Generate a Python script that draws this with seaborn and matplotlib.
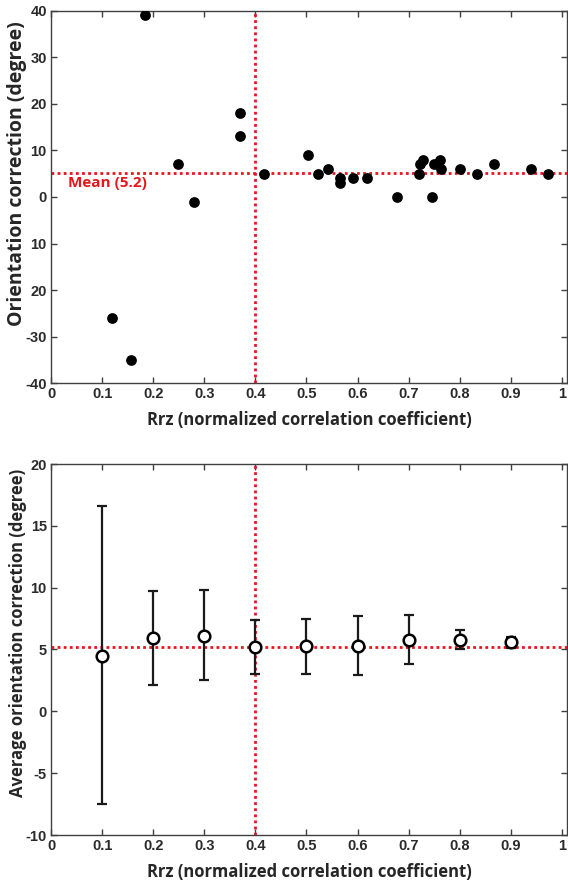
import numpy as np
import pandas as pd
import matplotlib
matplotlib.use("Agg")
import matplotlib.pyplot as plt
import seaborn as sns

# ---- data: top panel (individual cases) ----
rrz = [0.119, 0.156, 0.184, 0.248, 0.279, 0.369, 0.369, 0.416,
       0.504, 0.523, 0.543, 0.565, 0.565, 0.591, 0.619, 0.678,
       0.721, 0.723, 0.729, 0.746, 0.749, 0.761, 0.763, 0.800,
       0.833, 0.868, 0.939, 0.973]
orient = [-26, -35, 39, 7, -1, 18, 13, 5,
          9, 5, 6, 3, 4, 4, 4, 0,
          5, 7, 8, 0, 7, 8, 6, 6,
          5, 7, 6, 5]

# ---- data: bottom panel (binned averages) ----
bin_x = [0.1, 0.2, 0.3, 0.4, 0.5, 0.6, 0.7, 0.8, 0.9]
bin_mean = [4.5, 5.9, 6.1, 5.2, 5.3, 5.3, 5.8, 5.8, 5.6]
bin_upper = [16.6, 9.7, 9.8, 7.4, 7.5, 7.7, 7.8, 6.6, 6.0]
bin_lower = [-7.5, 2.1, 2.5, 3.0, 3.0, 2.95, 3.8, 5.0, 5.1]

mean_val = 5.2
threshold = 0.4

x_ticks = [0, 0.1, 0.2, 0.3, 0.4, 0.5, 0.6, 0.7, 0.8, 0.9, 1]
x_ticklabels = ["0", "0.1", "0.2", "0.3", "0.4", "0.5", "0.6", "0.7", "0.8", "0.9", "1"]
top_yticks = [40, 30, 20, 10, 0, -10, -20, -30, -40]
top_yticklabels = ["40", "30", "20", "10", "0", "10", "20", "-30", "-40"]
bot_yticks = [20, 15, 10, 5, 0, -5, -10]
bot_yticklabels = ["20", "15", "10", "5", "0", "-5", "-10"]

xlabel = "Rrz (normalized correlation coefficient)"
top_ylabel = "Orientation correction (degree)"
bot_ylabel = "Average orientation correction (degree)"
mean_label = "Mean (5.2)"

sns.set_style("ticks")
plt.rcParams["font.family"] = ["Liberation Sans", "DejaVu Sans"]

fig = plt.figure(figsize=(5.68, 8.8), dpi=100)
W, H = 568, 880
def axes_px(l, t, r, b):
    return fig.add_axes([l / W, 1 - b / H, (r - l) / W, (b - t) / H])

ax1 = axes_px(51, 10.7, 567, 383.3)
ax2 = axes_px(51, 464, 567, 835)

red = "#e8141c"
spine_col = "#404040"
tick_font = dict(family=["Liberation Sans"], weight="bold", size=10.5)
xlabel_font = dict(family=["Open Sans", "DejaVu Sans"], weight="bold", size=12)

def style(ax, yticks, yticklabels, ylim):
    ax.set_xlim(0, 1.01)
    ax.set_ylim(*ylim)
    ax.set_xticks(x_ticks)
    ax.set_xticklabels(x_ticklabels, fontdict=tick_font, color="#2a2a2a")
    ax.set_yticks(yticks)
    ax.set_yticklabels(yticklabels, fontdict=tick_font, color="#2a2a2a")
    ax.tick_params(direction="in", top=True, right=True, length=4, width=1,
                   color=spine_col, pad=3)
    for s in ax.spines.values():
        s.set_visible(True)
        s.set_color(spine_col)
        s.set_linewidth(1.0)
    ax.set_xlabel(xlabel, fontdict=xlabel_font, labelpad=7)

# ---- top panel ----
df_top = pd.DataFrame({"rrz": rrz, "orient": orient})
ax1.axhline(mean_val, color=red, ls=(0, (1, 1.2)), lw=2, zorder=1)
ax1.axvline(threshold, color=red, ls=(0, (1, 1.2)), lw=2, zorder=1)
sns.scatterplot(data=df_top, x="rrz", y="orient", ax=ax1, color="black",
                s=60, edgecolor="black", linewidth=0, zorder=3, legend=False)
style(ax1, top_yticks, top_yticklabels, (-40, 40))
ax1.set_ylabel(top_ylabel, family=["Open Sans", "DejaVu Sans"],
               fontweight="bold", fontsize=14)
ax1.yaxis.set_label_coords(-0.047, 0.564)
ax1.text(0.033, 3.0, mean_label, color=red, fontsize=11, fontweight="bold",
         family=["Open Sans", "DejaVu Sans"], va="center", ha="left")

# ---- bottom panel ----
df_bot = pd.DataFrame({"x": bin_x, "m": bin_mean, "lo": bin_lower, "hi": bin_upper})
ax2.axhline(mean_val, color=red, ls=(0, (1, 1.2)), lw=2, zorder=1)
ax2.axvline(threshold, color=red, ls=(0, (1, 1.2)), lw=2, zorder=1)
yerr = np.vstack([df_bot["m"] - df_bot["lo"], df_bot["hi"] - df_bot["m"]])
ax2.errorbar(df_bot["x"], df_bot["m"], yerr=yerr, fmt="none", ecolor="#1a1a1a",
             elinewidth=1.6, capsize=3.5, capthick=1.6, zorder=2)
sns.scatterplot(data=df_bot, x="x", y="m", ax=ax2, marker="o", s=70,
                facecolor="white", edgecolor="black", linewidth=1.8,
                zorder=4, legend=False)
style(ax2, bot_yticks, bot_yticklabels, (-10, 20))
ax2.set_ylabel(bot_ylabel, family=["Open Sans", "DejaVu Sans"],
               fontweight="bold", fontsize=12)
ax2.yaxis.set_label_coords(-0.047, 0.545)

fig.savefig("out.png", dpi=100)
